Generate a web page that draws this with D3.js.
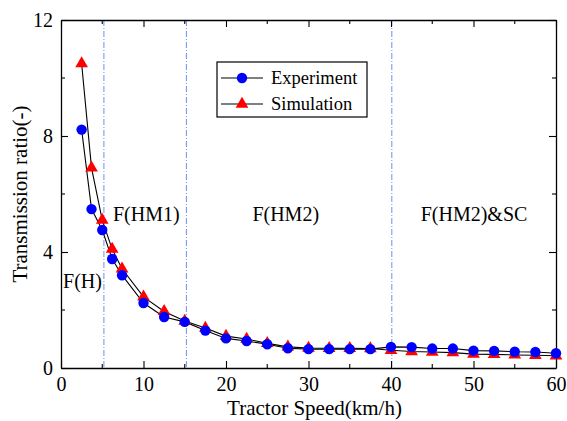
<!DOCTYPE html>
<html lang="en">
<head>
    <meta charset="UTF-8">
    <title>Transmission ratio vs tractor speed</title>
    <script src="https://d3js.org/d3.v7.min.js"></script>
    <style>
        body { margin: 0; background: #fff; }
        text { font-family: "Liberation Serif", "Times New Roman", serif; fill: #000; }
    </style>
</head>
<body>
    <svg id="chart"></svg>
    <script>
        // data
        var speeds = [2.5, 3.7, 5, 6.2, 7.4, 10, 12.5, 15, 17.5, 20, 22.5, 25, 27.5, 30, 32.5, 35, 37.5,
                      40, 42.5, 45, 47.5, 50, 52.5, 55, 57.5, 60];
        var experiment = [8.22, 5.48, 4.76, 3.76, 3.2, 2.24, 1.76, 1.59, 1.29, 1.02, 0.93, 0.82, 0.68, 0.65, 0.65, 0.65, 0.65,
                          0.73, 0.72, 0.67, 0.67, 0.6, 0.59, 0.56, 0.55, 0.51];
        var simulation = [10.5, 6.9, 5.1, 4.1, 3.42, 2.45, 1.95, 1.62, 1.38, 1.1, 1.0, 0.85, 0.73, 0.69, 0.68, 0.68, 0.67,
                          0.61, 0.57, 0.55, 0.53, 0.48, 0.47, 0.45, 0.44, 0.42];
        var regionBounds = [5.2, 15.2, 40.1];
        var regionLabels = [
            { text: "F(H)", x: 0.25, y: 2.76 },
            { text: "F(HM1)", x: 6.3, y: 5.08 },
            { text: "F(HM2)", x: 23.2, y: 5.08 },
            { text: "F(HM2)&SC", x: 43.6, y: 5.08 }
        ];
        var xTicks = [0, 10, 20, 30, 40, 50, 60];
        var yTicks = [0, 4, 8, 12];

        var W = 567, H = 421;
        var margin = { top: 20, right: 11, bottom: 53, left: 61 };
        var width = W - margin.left - margin.right;
        var height = H - margin.top - margin.bottom;

        var svg = d3.select('#chart')
            .attr('width', W)
            .attr('height', H);

        var g = svg.append('g')
            .attr('transform', 'translate(' + margin.left + ',' + margin.top + ')');

        var x = d3.scaleLinear().domain([0, 60]).range([0, width]);
        var y = d3.scaleLinear().domain([0, 12]).range([height, 0]);

        // region separators
        g.selectAll('.sep')
            .data(regionBounds)
            .enter()
            .append('line')
            .attr('x1', d => x(d)).attr('x2', d => x(d))
            .attr('y1', 0).attr('y2', height)
            .attr('stroke', '#6f8ff0')
            .attr('stroke-width', 1)
            .attr('stroke-dasharray', '6,2,1,2');

        // axes (ticks pointing inward, on all four sides)
        function styleAxis(sel) {
            sel.select('.domain').attr('stroke', '#000').attr('stroke-width', 1.3);
            sel.selectAll('line').attr('stroke', '#000').attr('stroke-width', 1.1);
            sel.selectAll('text').style('font-size', '20px').style('font-family', '"Liberation Serif", serif');
        }

        function minorTicks(axisG, values, horizontal, len) {
            axisG.append('g').selectAll('line')
                .data(values).enter().append('line')
                .attr('x1', d => horizontal ? x(d) : 0)
                .attr('x2', d => horizontal ? x(d) : len)
                .attr('y1', d => horizontal ? 0 : y(d))
                .attr('y2', d => horizontal ? len : y(d))
                .attr('stroke', '#000')
                .attr('stroke-width', 1.1);
        }

        var xMinor = d3.range(5, 60, 10);
        var yMinor = [2, 6, 10];

        var axisBottomG = g.append('g')
            .attr('transform', 'translate(0,' + height + ')')
            .call(d3.axisBottom(x).tickValues(xTicks).tickSize(-7).tickPadding(9).tickSizeOuter(0));
        styleAxis(axisBottomG);
        minorTicks(axisBottomG, xMinor, true, -4);

        var axisTopG = g.append('g')
            .call(d3.axisTop(x).tickValues(xTicks).tickSize(-7).tickFormat('').tickSizeOuter(0));
        styleAxis(axisTopG);
        minorTicks(axisTopG, xMinor, true, 4);

        var axisLeftG = g.append('g')
            .call(d3.axisLeft(y).tickValues(yTicks).tickSize(-7).tickPadding(8).tickSizeOuter(0));
        styleAxis(axisLeftG);
        minorTicks(axisLeftG, yMinor, false, 4);

        var axisRightG = g.append('g')
            .attr('transform', 'translate(' + width + ',0)')
            .call(d3.axisRight(y).tickValues(yTicks).tickSize(-7).tickFormat('').tickSizeOuter(0));
        styleAxis(axisRightG);
        minorTicks(axisRightG, yMinor, false, -4);

        // axis titles
        g.append('text')
            .attr('x', width / 2 + 6)
            .attr('y', height + 47)
            .style('text-anchor', 'middle')
            .style('font-size', '21px')
            .text('Tractor Speed(km/h)');

        g.append('text')
            .attr('transform', 'rotate(-90)')
            .attr('x', -height / 2)
            .attr('y', -34)
            .style('text-anchor', 'middle')
            .style('font-size', '21px')
            .text('Transmission ratio(-)');

        // region labels
        g.selectAll('.region')
            .data(regionLabels)
            .enter()
            .append('text')
            .attr('x', d => x(d.x))
            .attr('y', d => y(d.y))
            .style('font-size', '20px')
            .text(d => d.text);

        var line = d3.line()
            .x(d => x(d[0]))
            .y(d => y(d[1]));

        var expData = speeds.map((s, i) => [s, experiment[i]]);
        var simData = speeds.map((s, i) => [s, simulation[i]]);

        [simData, expData].forEach(function (data) {
            g.append('path')
                .datum(data)
                .attr('d', line)
                .attr('fill', 'none')
                .attr('stroke', '#000')
                .attr('stroke-width', 1.1);
        });

        var tri = d3.symbol().type(d3.symbolTriangle).size(70);

        g.selectAll('.sim')
            .data(simData)
            .enter()
            .append('path')
            .attr('d', tri)
            .attr('transform', d => 'translate(' + x(d[0]) + ',' + y(d[1]) + ')')
            .attr('fill', '#ff0000');

        g.selectAll('.exp')
            .data(expData)
            .enter()
            .append('circle')
            .attr('cx', d => x(d[0]))
            .attr('cy', d => y(d[1]))
            .attr('r', 5.2)
            .attr('fill', '#0000ff');

        // legend
        var lg = svg.append('g').attr('transform', 'translate(217,62)');
        lg.append('rect')
            .attr('width', 150).attr('height', 55)
            .attr('fill', '#fff').attr('stroke', '#000').attr('stroke-width', 1.2);
        var items = [
            { label: 'Experiment', yy: 16, kind: 'circle' },
            { label: 'Simulation', yy: 42, kind: 'tri' }
        ];
        items.forEach(function (it) {
            lg.append('line')
                .attr('x1', 4).attr('x2', 46)
                .attr('y1', it.yy).attr('y2', it.yy)
                .attr('stroke', '#000').attr('stroke-width', 1.1);
            if (it.kind === 'circle') {
                lg.append('circle').attr('cx', 25).attr('cy', it.yy).attr('r', 5.2).attr('fill', '#0000ff');
            } else {
                lg.append('path').attr('d', tri)
                    .attr('transform', 'translate(25,' + it.yy + ')')
                    .attr('fill', '#ff0000');
            }
            lg.append('text')
                .attr('x', 54).attr('y', it.yy + 6)
                .style('font-size', '18.5px')
                .text(it.label);
        });
    </script>
</body>
</html>
